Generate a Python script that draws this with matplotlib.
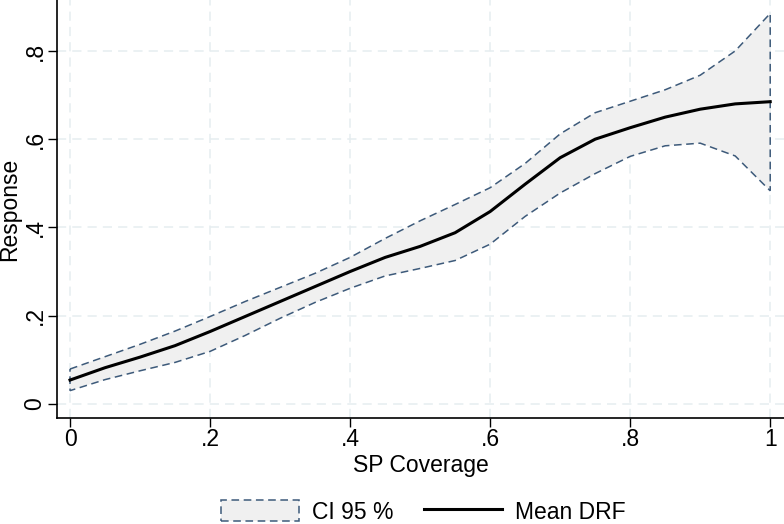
import numpy as np
import matplotlib.pyplot as plt
from matplotlib.patches import Patch
from matplotlib.lines import Line2D

plt.rcParams['font.family'] = ['Liberation Sans', 'DejaVu Sans']

# SP coverage grid and the curves
coverage = [0.0, 0.05, 0.1, 0.15, 0.2, 0.25, 0.3, 0.35, 0.4, 0.45, 0.5,
            0.55, 0.6, 0.65, 0.7, 0.75, 0.8, 0.85, 0.9, 0.95, 1.0]
mean_drf = [0.054, 0.082, 0.106, 0.132, 0.164, 0.198, 0.232, 0.266, 0.300, 0.332, 0.357,
            0.388, 0.436, 0.498, 0.558, 0.600, 0.626, 0.650, 0.668, 0.680, 0.685]
ci_upper = [0.079, 0.107, 0.135, 0.165, 0.198, 0.232, 0.264, 0.296, 0.332, 0.375, 0.415,
            0.452, 0.490, 0.545, 0.612, 0.660, 0.686, 0.712, 0.745, 0.800, 0.885]
ci_lower = [0.030, 0.055, 0.075, 0.094, 0.119, 0.155, 0.194, 0.230, 0.262, 0.290, 0.307,
            0.325, 0.362, 0.425, 0.478, 0.522, 0.561, 0.585, 0.591, 0.562, 0.483]

xticks = [0, 0.2, 0.4, 0.6, 0.8, 1.0]
xtick_labels = ['0', '.2', '.4', '.6', '.8', '1']
yticks = [0, 0.2, 0.4, 0.6, 0.8]
ytick_labels = ['0', '.2', '.4', '.6', '.8']

ci_color = '#3d5a7a'
grid_color = '#e6edf0'
fs = 16.5

fig = plt.figure(figsize=(7.84, 5.24), dpi=100)
ax = fig.add_axes([57 / 784, 1 - 418 / 524, 1 - 57 / 784, 418 / 524])

# shaded band with dashed outline
poly_x = np.concatenate([coverage, coverage[::-1]])
poly_y = np.concatenate([ci_upper, ci_lower[::-1]])
ax.fill(poly_x, poly_y, facecolor='#f0f0f0', edgecolor=ci_color,
        linestyle=(0, (5, 3)), linewidth=1.1, zorder=2)
ax.plot(coverage, mean_drf, color='black', linewidth=2.2, zorder=3)

ax.set_xlim(-0.0186, 1.0197)
ax.set_ylim(-0.032, 0.9155)
ax.set_xticks(xticks)
ax.set_xticklabels(xtick_labels)
ax.set_yticks(yticks)
ax.set_yticklabels(ytick_labels, rotation=90, va='center')
ax.tick_params(direction='out', length=6.5, width=1, labelsize=fs, pad=1)
ax.grid(True, color=grid_color, linestyle=(0, (6, 4)), linewidth=1.1, zorder=0)
ax.set_axisbelow(True)

for side in ['top', 'right']:
    ax.spines[side].set_visible(False)
for side in ['left', 'bottom']:
    ax.spines[side].set_linewidth(1.2)

ax.set_xlabel('SP Coverage', fontsize=fs, labelpad=2)
ax.set_ylabel('Response', fontsize=fs)
ax.yaxis.set_label_coords((21 - 57) / 727, 0.5)

handles = [Patch(facecolor='#f0f0f0', edgecolor=ci_color, linestyle=(0, (5, 3)), linewidth=1.1),
           Line2D([0], [0], color='black', linewidth=2.2)]
fig.legend(handles, ['CI 95 %', 'Mean DRF'], loc='center', ncol=2,
           bbox_to_anchor=(0.540, 0.023), frameon=False, fontsize=fs,
           handlelength=3.4, handleheight=1.0, columnspacing=1.3, handletextpad=0.6,
           borderpad=0)

fig.savefig('out.png', dpi=100)
